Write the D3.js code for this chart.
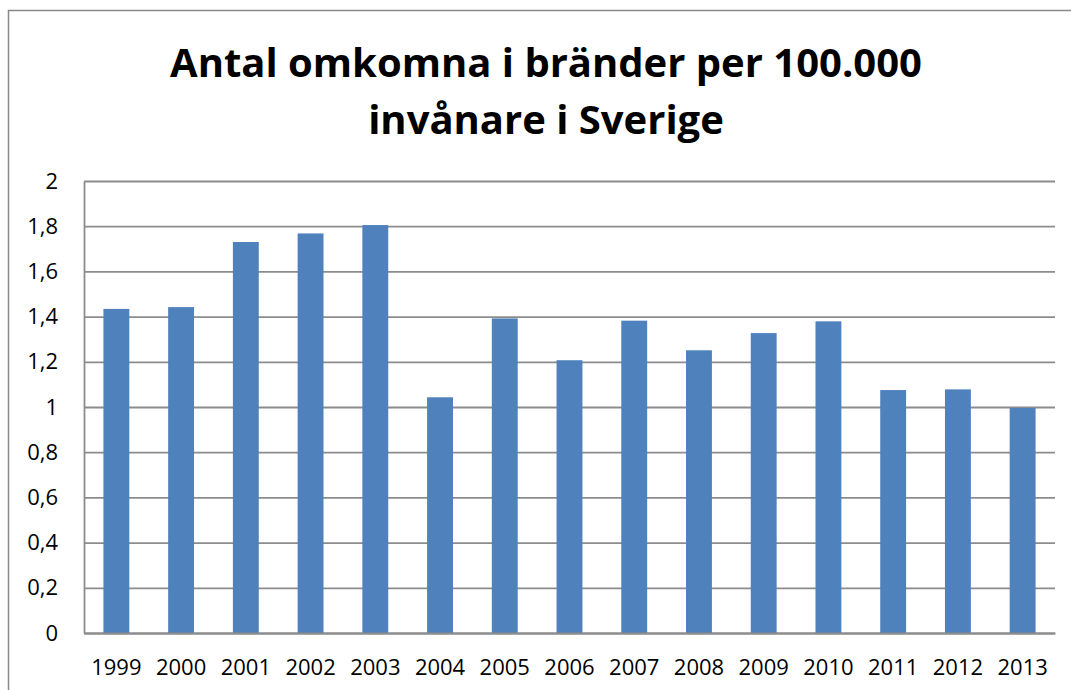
<!DOCTYPE html>
<html><head><meta charset="utf-8">
<script src="https://cdn.jsdelivr.net/npm/d3@7"></script>
<style>body{margin:0;background:#fff;} svg{display:block;}</style>
</head><body>
<svg id="c" width="1071" height="690"></svg>
<script>
const years = ["1999","2000","2001","2002","2003","2004","2005","2006","2007","2008","2009","2010","2011","2012","2013"];
const values = [1.434,1.442,1.730,1.768,1.805,1.043,1.392,1.207,1.382,1.251,1.327,1.379,1.075,1.078,0.996];
const yTicks = [0,0.2,0.4,0.6,0.8,1,1.2,1.4,1.6,1.8,2];
const titleLines = ["Antal omkomna i bränder per 100.000","invånare i Sverige"];

const svg = d3.select("#c");
const m = {left:84, right:1055, top:181, bottom:633};
const font = "'Open Sans', 'Liberation Sans', sans-serif";

// outer frame
svg.append("rect").attr("x",8.5).attr("y",10.5).attr("width",1100).attr("height",700)
  .attr("fill","none").attr("stroke","#888").attr("stroke-width",1.5);

const x = d3.scaleBand().domain(years).range([m.left,m.right]).paddingInner(0.6).paddingOuter(0.3);
const y = d3.scaleLinear().domain([0,2]).range([m.bottom,m.top]);

// gridlines
const grid = d3.axisLeft(y).tickValues(yTicks).tickSize(-(m.right-m.left)).tickFormat("");
svg.append("g").attr("transform",`translate(${m.left},0)`).call(grid)
  .call(g=>g.select(".domain").remove())
  .call(g=>g.selectAll("line").attr("stroke","#8c8c8c").attr("stroke-width",1.8));

// bars
svg.append("g").selectAll("rect").data(values).join("rect")
  .attr("x",(d,i)=>x(years[i])).attr("width",x.bandwidth())
  .attr("y",d=>y(d)).attr("height",d=>y(0)-y(d))
  .attr("fill","#4f81bd");

// y axis
const yAxis = d3.axisLeft(y).tickValues(yTicks).tickSize(0).tickPadding(26)
  .tickFormat(d=>d3.format("")(d).replace(".",","));
svg.append("g").attr("transform",`translate(${m.left},0)`).call(yAxis)
  .call(g=>g.select(".domain").attr("stroke","#8c8c8c").attr("stroke-width",1.8))
  .call(g=>g.selectAll("text").attr("font-family",font).attr("font-size",22).attr("fill","#000"));

// x axis
const xAxis = d3.axisBottom(x).tickSize(0).tickPadding(26);
svg.append("g").attr("transform",`translate(0,${m.bottom})`).call(xAxis)
  .call(g=>g.select(".domain").attr("stroke","#8c8c8c").attr("stroke-width",1.8))
  .call(g=>g.selectAll("text").attr("font-family",font).attr("font-size",22).attr("fill","#000"));

// title
svg.append("g").selectAll("text").data(titleLines).join("text")
  .attr("x",546).attr("y",(d,i)=>77+i*57)
  .attr("text-anchor","middle").attr("font-family",font).attr("font-weight","bold")
  .attr("font-size",40).attr("fill","#000").text(d=>d);
</script>
</body></html>
